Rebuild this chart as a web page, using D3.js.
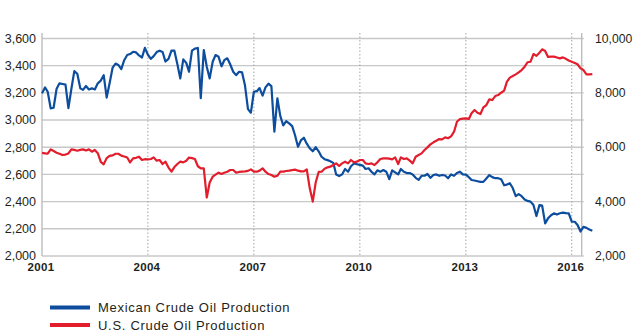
<!DOCTYPE html>
<html>
<head>
<meta charset="utf-8">
<script src="https://cdn.jsdelivr.net/npm/d3@7"></script>
<style>
  html, body { margin: 0; padding: 0; background: #fff; }
  svg { display: block; }
  text { font-family: "Liberation Sans", Arial, Helvetica, sans-serif; fill: #231f20; }
</style>
</head>
<body>
<svg id="chart" width="640" height="333"></svg>
<script>
// ---- Data (monthly, starting January 2001) ----
const startMonth = "2001-01";
// Mexican crude oil production (thousand b/d, left axis)
const mexicoValues = [
  3196, 3240, 3208, 3086, 3090, 3230, 3270, 3265, 3260, 3088, 3230, 3360,
  3340, 3233, 3222, 3250, 3225, 3233, 3225, 3270, 3290, 3330, 3165, 3270,
  3385, 3415, 3405, 3375, 3440, 3478, 3485, 3502, 3497, 3475, 3460, 3531,
  3480, 3450, 3470, 3500, 3510, 3500, 3430, 3450, 3510, 3510, 3410, 3306,
  3446, 3420, 3355, 3510, 3525, 3530, 3160, 3515, 3392, 3306, 3429, 3478,
  3465, 3395, 3440, 3454, 3410, 3355, 3330, 3355, 3350, 3255, 3080, 3054,
  3208, 3212, 3235, 3180, 3240, 3267, 3250, 2914, 3160, 3030, 2960, 2991,
  2975, 2955, 2890, 2804, 2850, 2870, 2826, 2792, 2770, 2800, 2770, 2730,
  2712, 2705, 2697, 2685, 2600, 2588, 2600, 2640, 2620, 2660, 2680, 2675,
  2670, 2665, 2640, 2645, 2620, 2600, 2630, 2620, 2632, 2620, 2565, 2630,
  2615, 2600, 2640, 2620, 2610, 2610, 2600, 2575, 2560, 2590, 2590, 2603,
  2575, 2596, 2600, 2590, 2596, 2592, 2572, 2600, 2590, 2610, 2620, 2600,
  2598, 2580, 2559, 2555, 2550, 2545, 2545, 2570, 2595, 2580, 2572, 2572,
  2565, 2520, 2525, 2535, 2500, 2440, 2455, 2440, 2415, 2405, 2400, 2375,
  2294, 2375, 2370, 2240, 2277, 2300, 2314, 2305, 2314, 2319, 2315, 2314,
  2252, 2252, 2228, 2180, 2215, 2207, 2195, 2186
];
// U.S. crude oil production (thousand b/d, right axis)
const usValues = [
  5790, 5774, 5760, 5921, 5860, 5800, 5760, 5713, 5730, 5770, 5921, 5900,
  5872, 5900, 5921, 5880, 5921, 5835, 5900, 5780, 5460, 5370, 5600, 5680,
  5700, 5760, 5760, 5690, 5660, 5620, 5440, 5590, 5610, 5652, 5529, 5560,
  5554, 5566, 5627, 5505, 5529, 5383, 5468, 5250, 5101, 5270, 5383, 5468,
  5444, 5505, 5620, 5600, 5566, 5300, 5224, 5224, 4150, 4700, 4917, 4990,
  5064, 5015, 5064, 5100, 5162, 5162, 5064, 5090, 5100, 5110, 5130, 5186,
  5100, 5100, 5140, 5224, 5100, 5015, 4978, 4917, 4950, 5100, 5100, 5125,
  5137, 5160, 5175, 5137, 5110, 5110, 5186, 4488, 4000, 4700, 5090, 5100,
  5210, 5260, 5285, 5346, 5407, 5310, 5407, 5468, 5407, 5530, 5444, 5468,
  5530, 5530, 5407, 5383, 5407, 5346, 5444, 5566, 5590, 5590, 5578, 5554,
  5627, 5383, 5627, 5566, 5590, 5505, 5407, 5652, 5713, 5774, 5896, 5994,
  6105, 6180, 6240, 6300, 6289, 6360, 6330, 6400, 6570, 6938, 7036, 7050,
  7060, 7040, 7250, 7367, 7269, 7220, 7465, 7551, 7759, 7735, 7882, 7918,
  8004, 8080, 8400, 8560, 8617, 8680, 8750, 8838, 8960, 9125, 9144, 9426,
  9360, 9475, 9600, 9540, 9320, 9330, 9330, 9300, 9267, 9304, 9250, 9190,
  9144, 9100, 9050, 8900, 8838, 8680, 8680, 8690
];
const leftTicks = [2000, 2200, 2400, 2600, 2800, 3000, 3200, 3400, 3600];
const rightTicks = [2000, 4000, 6000, 8000, 10000];
const yearTicks = [2001, 2004, 2007, 2010, 2013, 2016];
const seriesNames = ["Mexican Crude Oil Production", "U.S. Crude Oil Production"];
const seriesColors = ["#0c4d9e", "#e21d2c"];

// ---- Layout ----
const svg = d3.select("#chart");
const plotLeft = 42, plotRight = 581.7, plotTop = 33, plotBottom = 256;

const parseMonth = d3.timeParse("%Y-%m");
const start = parseMonth(startMonth);
const dateAt = i => d3.timeMonth.offset(start, i);

const x = d3.scaleTime()
  .domain([new Date(2001, 0, 1), new Date(2016, 3, 13)])
  .range([plotLeft, plotRight]);
const yL = d3.scaleLinear().domain([2000, 3640]).range([plotBottom, plotTop]);
const yR = d3.scaleLinear().domain([2000, 10200]).range([plotBottom, plotTop]);

const mexico = mexicoValues.map((v, i) => ({ date: dateAt(i), value: v }));
const us = usValues.map((v, i) => ({ date: dateAt(i), value: v }));

// Horizontal gridlines
svg.append("g")
  .selectAll("line")
  .data(leftTicks.filter(d => d > 2000))
  .join("line")
  .attr("x1", plotLeft).attr("x2", plotRight + 2)
  .attr("y1", d => yL(d)).attr("y2", d => yL(d))
  .attr("stroke", "#c8c8c8").attr("stroke-width", 1.4);

// Vertical dotted year lines
svg.append("g")
  .selectAll("line")
  .data(yearTicks.filter(d => d > 2001))
  .join("line")
  .attr("x1", d => x(new Date(d, 0, 1))).attr("x2", d => x(new Date(d, 0, 1)))
  .attr("y1", plotTop).attr("y2", plotBottom)
  .attr("stroke", "#9a9a9a").attr("stroke-width", 0.9)
  .attr("stroke-dasharray", "1.5,2");

// Axis frame lines
svg.append("line").attr("x1", plotLeft).attr("x2", plotLeft).attr("y1", plotTop).attr("y2", plotBottom)
  .attr("stroke", "#bdbdbd").attr("stroke-width", 1.4);
svg.append("line").attr("x1", plotRight).attr("x2", plotRight).attr("y1", plotTop).attr("y2", plotBottom)
  .attr("stroke", "#bdbdbd").attr("stroke-width", 1.4);
svg.append("line").attr("x1", plotLeft).attr("x2", plotRight + 2).attr("y1", plotBottom).attr("y2", plotBottom)
  .attr("stroke", "#c8c8c8").attr("stroke-width", 1.6);

// Left axis labels
const fmt = d3.format(",");
svg.append("g")
  .selectAll("text")
  .data(leftTicks)
  .join("text")
  .attr("x", 36).attr("y", d => yL(d))
  .attr("dy", "0.35em")
  .attr("text-anchor", "end")
  .attr("font-size", 12.5)
  .text(d => fmt(d));

// Right axis labels
svg.append("g")
  .selectAll("text")
  .data(rightTicks)
  .join("text")
  .attr("x", 595).attr("y", d => yR(d))
  .attr("dy", "0.35em")
  .attr("text-anchor", "start")
  .attr("font-size", 12.2)
  .text(d => fmt(d));

// Year labels
svg.append("g")
  .selectAll("text")
  .data(yearTicks)
  .join("text")
  .attr("x", d => x(new Date(d, 0, 1)) - 1)
  .attr("y", 270.5)
  .attr("text-anchor", "middle")
  .attr("font-size", 11.5)
  .attr("font-weight", "bold")
  .attr("letter-spacing", 0.3)
  .text(d => d);

// Series lines
const lineL = d3.line().x(d => x(d.date)).y(d => yL(d.value));
const lineR = d3.line().x(d => x(d.date)).y(d => yR(d.value));

svg.append("path").datum(mexico)
  .attr("d", lineL)
  .attr("fill", "none").attr("stroke", seriesColors[0])
  .attr("stroke-width", 2.2).attr("stroke-linejoin", "round");

svg.append("path").datum(us)
  .attr("d", lineR)
  .attr("fill", "none").attr("stroke", seriesColors[1])
  .attr("stroke-width", 2.2).attr("stroke-linejoin", "round");

// Legend
const legend = svg.append("g");
const legendY = [307.5, 325];
seriesNames.forEach((name, i) => {
  legend.append("line")
    .attr("x1", 50).attr("x2", 90)
    .attr("y1", legendY[i]).attr("y2", legendY[i])
    .attr("stroke", seriesColors[i]).attr("stroke-width", 4);
  legend.append("text")
    .attr("x", 98).attr("y", legendY[i])
    .attr("dy", "0.36em")
    .attr("font-size", 13)
    .attr("letter-spacing", 0.7)
    .text(name);
});
</script>
</body>
</html>
